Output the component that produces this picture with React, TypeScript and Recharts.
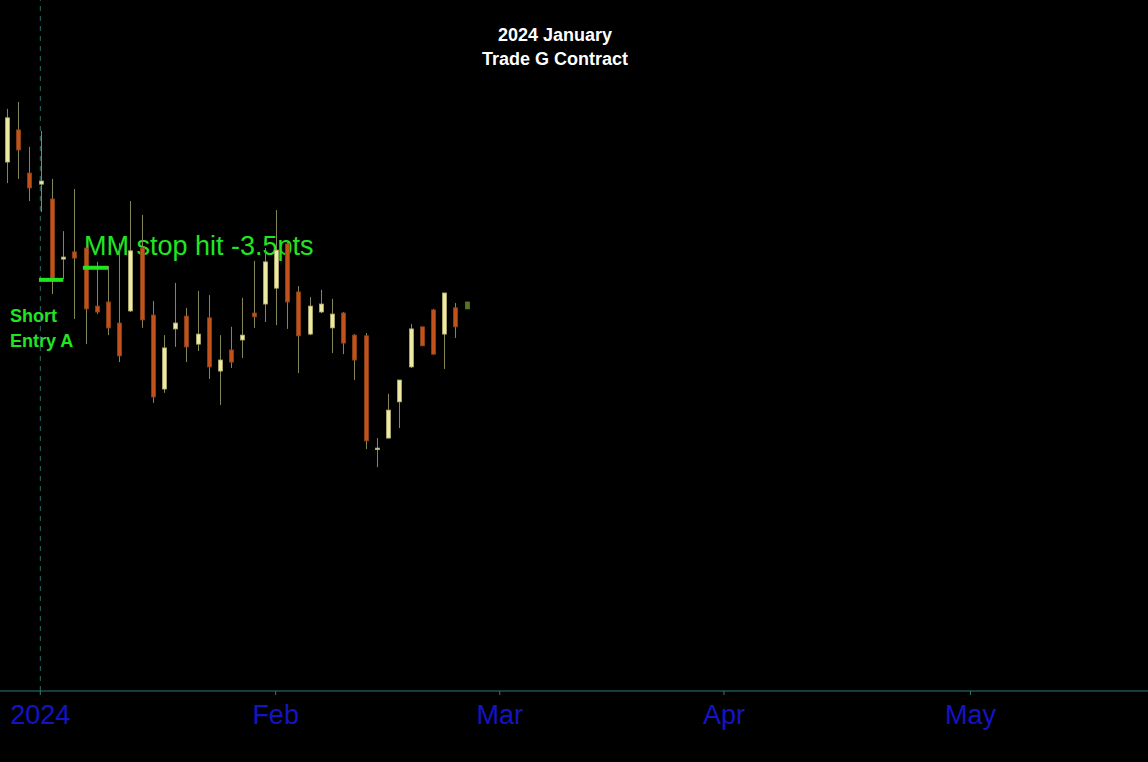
import { Bar, ComposedChart, ReferenceLine, XAxis, YAxis } from 'recharts';

// trading-day index, 0 = first session of 2024
const dayIndex = [-3, -2, -1, 0, 1, 2, 3, 4, 5, 6, 7, 8, 9, 10, 11, 12, 13, 14, 15, 16, 17, 18, 19, 20, 21, 22, 23, 24, 25, 26, 27, 28, 29, 30, 31, 32, 33, 34, 35, 36, 37, 38];
const opens = [2083.1, 2092.4, 2079.9, 2076.7, 2072.4, 2055.0, 2057.1, 2058.2, 2041.4, 2042.6, 2036.5, 2040.0, 2058.2, 2038.8, 2017.4, 2034.8, 2038.5, 2030.4, 2038.0, 2022.6, 2028.7, 2031.6, 2039.4, 2042.0, 2046.6, 2059.4, 2045.5, 2033.3, 2039.7, 2035.1, 2039.4, 2033.0, 2032.8, 1999.9, 2003.2, 2013.7, 2023.8, 2035.4, 2040.3, 2033.3, 2040.9, 2040.6];
const highs = [2098.5, 2100.5, 2087.5, 2092.1, 2078.2, 2063.1, 2075.3, 2058.8, 2054.2, 2053.0, 2059.7, 2071.8, 2067.8, 2042.9, 2033.0, 2048.1, 2040.9, 2045.8, 2044.6, 2033.0, 2035.4, 2043.8, 2054.5, 2058.2, 2069.2, 2060.5, 2047.2, 2044.0, 2046.1, 2043.5, 2039.7, 2033.3, 2033.6, 2003.2, 2016.0, 2020.0, 2036.2, 2035.4, 2040.6, 2045.2, 2042.3, 2042.6];
const lows = [2077.0, 2078.2, 2071.8, 2068.6, 2044.9, 2049.3, 2037.7, 2030.4, 2039.1, 2033.0, 2025.2, 2039.7, 2035.1, 2013.4, 2016.3, 2029.6, 2025.2, 2028.4, 2020.3, 2012.8, 2023.5, 2026.4, 2035.1, 2036.8, 2035.9, 2034.8, 2022.0, 2033.0, 2039.4, 2027.8, 2027.5, 2020.0, 2000.0, 1994.8, 2003.2, 2006.1, 2023.5, 2029.9, 2027.3, 2023.2, 2032.2, 2040.6];
const closes = [2095.9, 2086.6, 2075.6, 2077.6, 2049.5, 2055.6, 2055.3, 2040.6, 2039.7, 2035.1, 2027.0, 2057.4, 2037.4, 2015.1, 2029.3, 2036.5, 2029.6, 2033.3, 2023.8, 2025.8, 2025.2, 2033.0, 2038.3, 2054.2, 2057.6, 2042.6, 2032.8, 2041.4, 2042.0, 2039.1, 2030.7, 2025.8, 2002.4, 2000.3, 2011.3, 2020.0, 2034.8, 2029.9, 2027.5, 2045.2, 2035.4, 2042.6];

const monthTicks = [0, 21, 41, 61, 83];
const monthLabels = ['2024', 'Feb', 'Mar', 'Apr', 'May'];

const entryPrice = 2049.0;
const stopPrice = 2052.5;

const data = dayIndex.map((d, k) => ({
  i: d,
  open: opens[k],
  high: highs[k],
  low: lows[k],
  close: closes[k],
  range: [lows[k], highs[k]],
}));

const lastIndex = dayIndex[dayIndex.length - 1];

function Candle(props: any) {
  const { x, y, width, height, payload } = props;
  if (!payload || height == null) return null;
  const { open, close, high, low, i } = payload;
  const cx = Math.round(x + width / 2) + 0.5;
  const py = (v: number) => y + ((high - v) / (high - low)) * height;
  const top = Math.min(py(open), py(close));
  const bot = Math.max(py(open), py(close));
  const up = close >= open;
  const live = i === lastIndex;
  const fill = live ? '#56761e' : up ? '#eeeaa2' : '#c2511c';
  const edge = live ? '#56761e' : up ? '#b0ac70' : '#8e4418';
  return (
    <g>
      <line x1={cx} x2={cx} y1={y} y2={y + height} stroke="#85855a" strokeWidth={1} />
      <rect x={cx - 2} y={top} width={4} height={Math.max(bot - top, 1.5)} fill={fill} stroke={edge} strokeWidth={0.8} />
    </g>
  );
}

export default function App() {
  return (
    <div style={{ position: 'absolute', left: 0, top: 0, width: 1148, height: 762, background: '#000', fontFamily: "'Liberation Sans', Arial, sans-serif" }}>
      <ComposedChart width={1148} height={762} data={data} margin={{ top: 0, right: 0, bottom: 0, left: 0 }}>
        <XAxis
          dataKey="i"
          type="number"
          domain={[-3.596, 98.84]}
          allowDataOverflow
          ticks={monthTicks}
          interval={0}
          tickFormatter={(v: number) => monthLabels[monthTicks.indexOf(v)] ?? ''}
          height={71}
          axisLine={{ stroke: '#2f7d77' }}
          tickLine={{ stroke: '#2f7d77' }}
          tickSize={4}
          tickMargin={10}
          tick={{ fill: '#1414c4', fontSize: 27 }}
        />
        <YAxis hide type="number" domain={[1930, 2130]} allowDataOverflow />
        <ReferenceLine x={0} stroke="#2d6b66" strokeDasharray="5 5" />
        <Bar dataKey="range" barSize={8} shape={<Candle />} isAnimationActive={false} />
        <ReferenceLine
          segment={[{ x: -0.12, y: entryPrice }, { x: 2.05, y: entryPrice }]}
          stroke="#22e522"
          strokeWidth={4}
          ifOverflow="visible"
        />
        <ReferenceLine
          segment={[{ x: 3.8, y: stopPrice }, { x: 6.05, y: stopPrice }]}
          stroke="#22e522"
          strokeWidth={4}
          ifOverflow="visible"
        />
        <text x={555} y={41} textAnchor="middle" fill="#ffffff" fontSize={18} fontWeight="bold">2024 January</text>
        <text x={555} y={65} textAnchor="middle" fill="#ffffff" fontSize={18} fontWeight="bold">Trade G Contract</text>
        <text x={84} y={255} fill="#22e522" fontSize={27}>MM stop hit -3.5pts</text>
        <text x={10} y={322} fill="#22e522" fontSize={18} fontWeight="bold">Short</text>
        <text x={10} y={347} fill="#22e522" fontSize={18} fontWeight="bold">Entry A</text>
      </ComposedChart>
    </div>
  );
}
